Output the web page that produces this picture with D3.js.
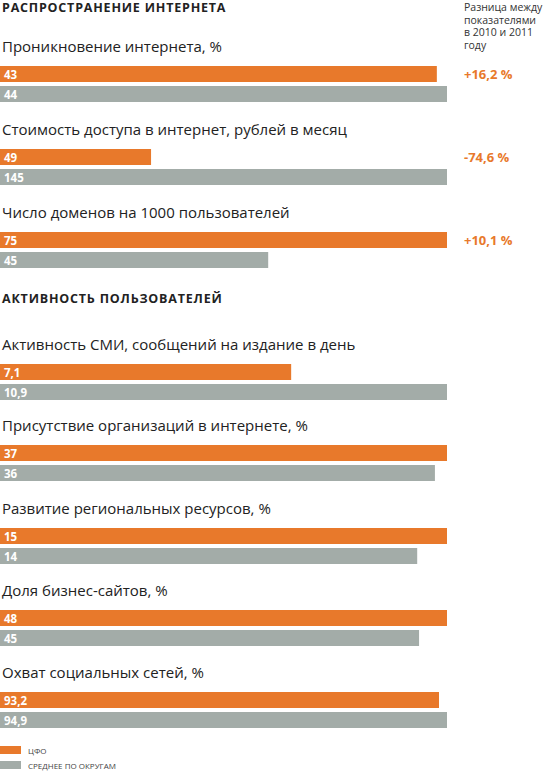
<!DOCTYPE html>
<html><head><meta charset="utf-8">
<script src="https://cdn.jsdelivr.net/npm/d3@7"></script>
<style>body{margin:0;background:#fff}</style>
</head><body><div id="chart"></div>
<script>
const sections = ['РАСПРОСТРАНЕНИЕ ИНТЕРНЕТА', 'АКТИВНОСТЬ ПОЛЬЗОВАТЕЛЕЙ'];
const titles = [
  'Проникновение интернета, %',
  'Стоимость доступа в интернет, рублей в месяц',
  'Число доменов на 1000 пользователей',
  'Активность СМИ, сообщений на издание в день',
  'Присутствие организаций в интернете, %',
  'Развитие региональных ресурсов, %',
  'Доля бизнес-сайтов, %',
  'Охват социальных сетей, %'
];
const cfoValues = [43, 49, 75, 7.1, 37, 15, 48, 93.2];
const avgValues = [44, 145, 45, 10.9, 36, 14, 45, 94.9];
const diffs = ['+16,2 %', '-74,6 %', '+10,1 %', null, null, null, null, null];
const legendLabels = ['ЦФО', 'СРЕДНЕЕ ПО ОКРУГАМ'];

const orange = '#e8792b', grey = '#a3aca8';
const W = 550, H = 775, barMax = 447, barH = 16;
const fmt = v => String(v).replace('.', ',');

const svg = d3.select('#chart').append('svg').attr('width', W).attr('height', H)
  .style('font-family', "'Open Sans', sans-serif");

// group title baselines
const groupY = [52, 135, 218, 350, 431, 514, 596, 678];
const sectionY = [12, 303];

sectionY.forEach((y, i) => svg.append('text').attr('x', 2).attr('y', y)
  .attr('font-size', 12.5).attr('font-weight', 'bold').attr('letter-spacing', 0.8)
  .attr('fill', '#222').text(sections[i]));

svg.append('text').attr('font-size', 10.5).attr('fill', '#333')
  .selectAll('tspan').data(['Разница между', 'показателями', 'в 2010 и 2011', 'году'])
  .join('tspan').attr('x', 464).attr('y', (d, i) => 11 + i * 12.5).text(d => d);

titles.forEach((t, i) => {
  const g = svg.append('g').attr('transform', `translate(0,${groupY[i]})`);
  g.append('text').attr('x', 2).attr('y', 0).attr('font-size', 15).attr('fill', '#222').text(t);
  const x = d3.scaleLinear().domain([0, Math.max(cfoValues[i], avgValues[i])]).range([0, barMax]);
  const vals = [cfoValues[i], avgValues[i]];
  vals.forEach((v, j) => {
    const y = 14 + j * 20;
    g.append('rect').attr('x', 0).attr('y', y).attr('width', x(v)).attr('height', barH)
      .attr('fill', j ? grey : orange);
    g.append('text').attr('x', 4).attr('y', y + 12.5).attr('font-size', 11.5)
      .attr('font-weight', 'bold').attr('fill', '#fff').text(fmt(v));
  });
  if (diffs[i]) g.append('text').attr('x', 464).attr('y', 27).attr('font-size', 13)
    .attr('font-weight', 'bold').attr('fill', orange).text(diffs[i]);
});

legendLabels.forEach((l, i) => {
  const y = 746 + i * 15;
  svg.append('rect').attr('x', 0).attr('y', y).attr('width', 21).attr('height', 8)
    .attr('fill', i ? grey : orange);
  svg.append('text').attr('x', 28).attr('y', y + 8).attr('font-size', 8).attr('fill', '#444').text(l);
});
</script></body></html>
